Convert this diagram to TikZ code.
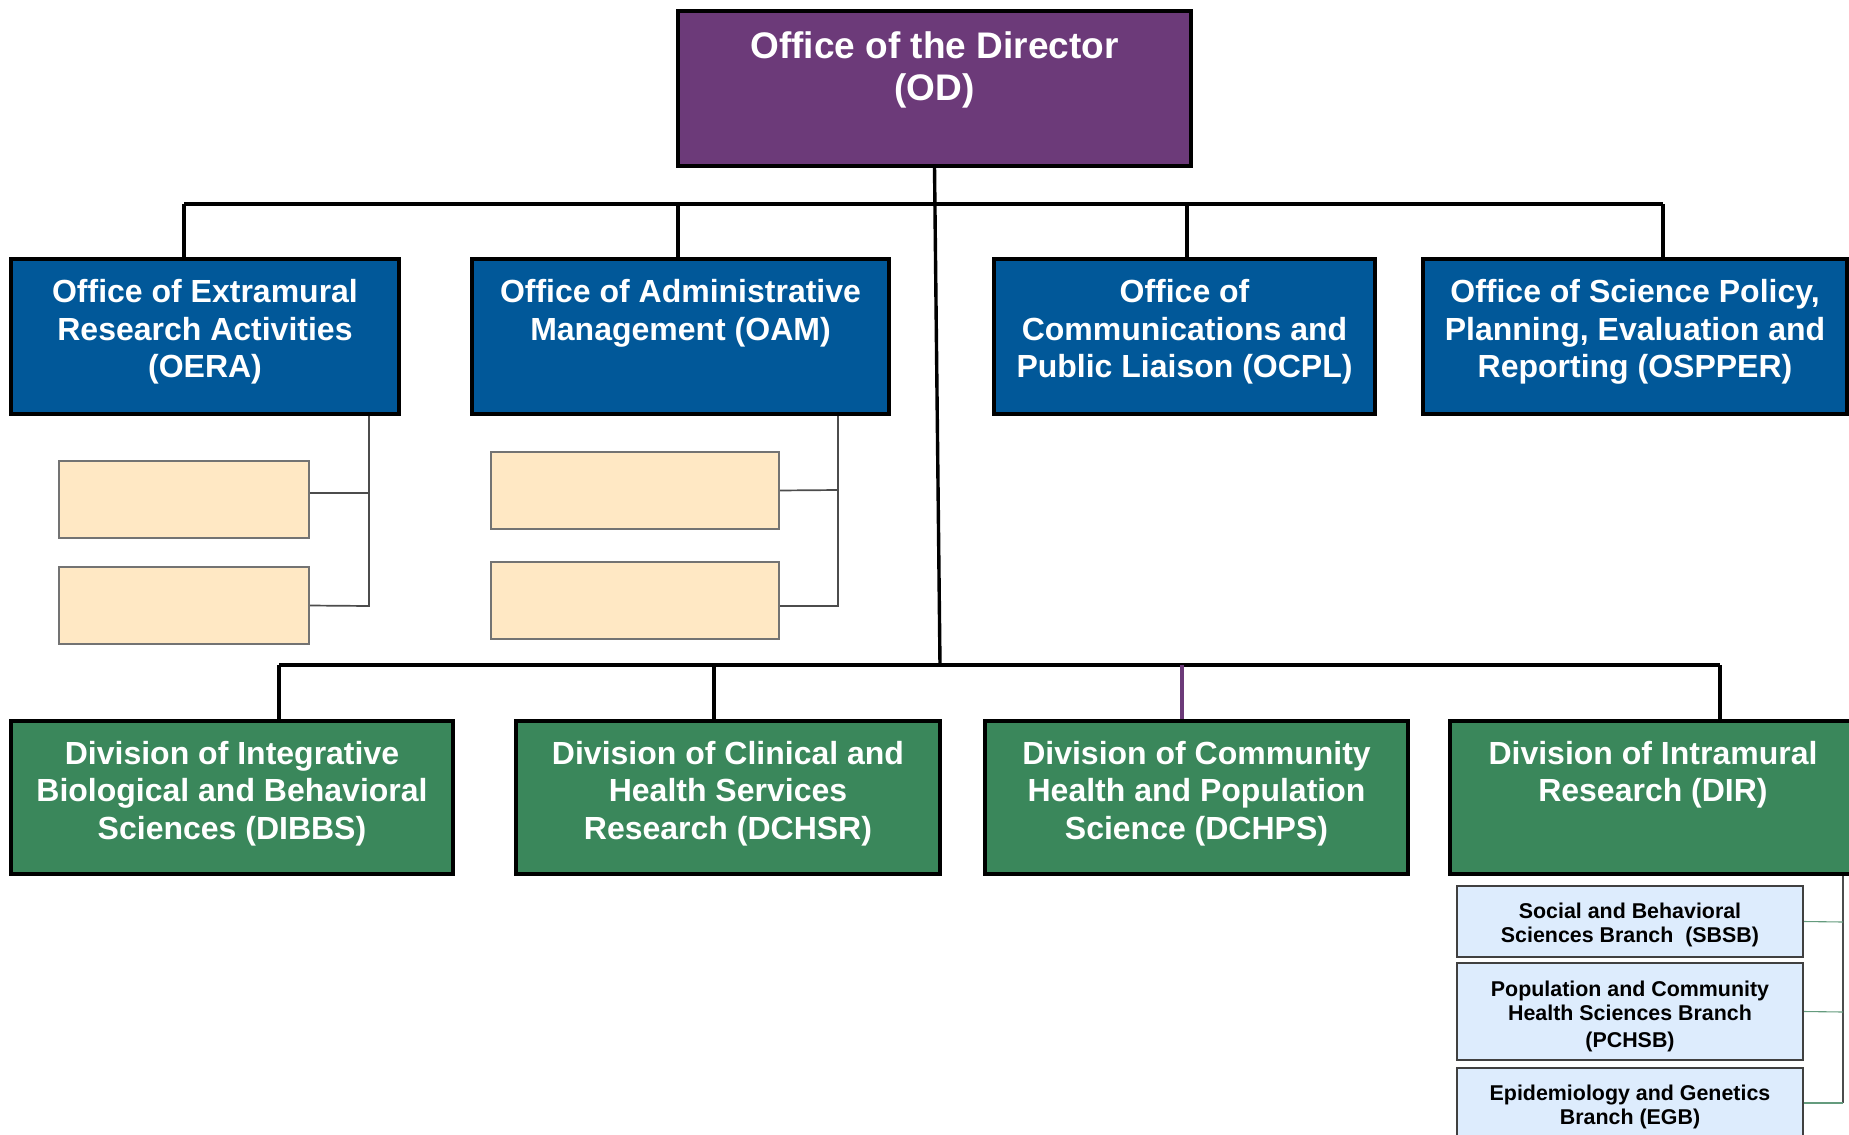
\documentclass[tikz,border=0pt]{standalone}
\usepackage{fontspec}
\setmainfont{Liberation Sans}
\usetikzlibrary{fit,calc,backgrounds}
\definecolor{odpurple}{RGB}{108,58,121}
\definecolor{offblue}{RGB}{1,88,153}
\definecolor{divgreen}{RGB}{58,135,91}
\definecolor{subbeige}{RGB}{255,232,196}
\definecolor{sublblue}{RGB}{221,236,253}
\definecolor{branchline}{RGB}{100,155,125}
\begin{document}
\begin{tikzpicture}[x=0.5pt,y=-0.5pt,
 boxbase/.style={draw=black, line width=1.75pt, inner sep=0pt, outer sep=0pt, rectangle},
 odbox/.style={boxbase, fill=odpurple},
 offbox/.style={boxbase, fill=offblue},
 divbox/.style={boxbase, fill=divgreen},
 beigebox/.style={draw=black!55, line width=0.6pt, fill=subbeige, inner sep=0pt, outer sep=0pt, rectangle},
 branchbox/.style={draw=black!75, line width=0.7pt, fill=sublblue, inner sep=0pt, outer sep=0pt, rectangle},
 bigtext/.style={text=white, font=\fontsize{16}{18.75}\selectfont\bfseries, align=center, inner sep=0pt, anchor=north},
 odtext/.style={text=white, font=\fontsize{18.5}{21}\selectfont\bfseries, align=center, inner sep=0pt, anchor=north},
 brtext/.style={text=black, font=\fontsize{10.7}{12}\selectfont\bfseries, align=center, inner sep=0pt},
 conn/.style={draw=black, line width=1.7pt},
 pconn/.style={draw=odpurple, line width=1.7pt},
 subconn/.style={draw=black!70, line width=0.85pt},
 brconn/.style={draw=branchline, line width=0.55pt},
]
\useasboundingbox (0,0) rectangle (1849,1135);
\clip (0,0) rectangle (1849,1135);

% main boxes
\node[odbox, fit={(678,11)(1191,166)}] (od) {};
\node[offbox, fit={(11,259)(399,414)}] (oera) {};
\node[offbox, fit={(472,259)(889,414)}] (oam) {};
\node[offbox, fit={(994,259)(1375,414)}] (ocpl) {};
\node[offbox, fit={(1423,259)(1847,414)}] (ospper) {};
\node[divbox, fit={(11,721)(453,874)}] (dibbs) {};
\node[divbox, fit={(516,721)(940,874)}] (dchsr) {};
\node[divbox, fit={(985,721)(1408,874)}] (dchps) {};
\node[divbox, fit={(1450,721)(1856,874)}] (dir) {};

% sub boxes
\node[beigebox, fit={(59,461)(309,538)}] (oe1) {};
\node[beigebox, fit={(59,567)(309,644)}] (oe2) {};
\node[beigebox, fit={(491,452)(779,529)}] (oa1) {};
\node[beigebox, fit={(491,562)(779,639)}] (oa2) {};
\node[branchbox, fit={(1457,886)(1803,957)}] (sbsb) {};
\node[branchbox, fit={(1457,963)(1803,1060)}] (pchsb) {};
\node[branchbox, fit={(1457,1068)(1803,1150)}] (egb) {};

% texts
\node[odtext] (odT) at ($(od.north)+(0,20)$) {Office of the Director\\(OD)};
\node[bigtext] (oeraT) at ($(oera.north)+(0,20)$) {Office of Extramural\\Research Activities\\(OERA)};
\node[bigtext] (oamT) at ($(oam.north)+(0,20)$) {Office of Administrative\\Management (OAM)};
\node[bigtext] (ocplT) at ($(ocpl.north)+(0,20)$) {Office of\\Communications and\\Public Liaison (OCPL)};
\node[bigtext] (ospperT) at ($(ospper.north)+(0,20)$) {Office of Science Policy,\\Planning, Evaluation and\\Reporting (OSPPER)};
\node[bigtext] (dibbsT) at ($(dibbs.north)+(0,19.5)$) {Division of Integrative\\Biological and Behavioral\\Sciences (DIBBS)};
\node[bigtext] (dchsrT) at ($(dchsr.north)+(0,19.5)$) {Division of Clinical and\\Health Services\\Research (DCHSR)};
\node[bigtext] (dchpsT) at ($(dchps.north)+(0,19.5)$) {Division of Community\\Health and Population\\Science (DCHPS)};
\node[bigtext] (dirT) at ($(dir.north)+(0,19.5)$) {Division of Intramural\\Research (DIR)};
\node[brtext] (sbsbT) at ($(sbsb.center)+(0,3.5)$) {Social and Behavioral\\Sciences Branch\ \ (SBSB)};
\node[brtext] (pchsbT) at ($(pchsb.center)+(0,5)$) {Population and Community\\Health Sciences Branch\\[1.5pt](PCHSB)};
\node[brtext] (egbT) at (1630,1107) {Epidemiology and Genetics\\Branch (EGB)};

% connectors
\coordinate (tbL) at (184,204);
\coordinate (tbA) at (678,204);
\coordinate (tbC) at (1187,204);
\coordinate (tbR) at (1663,204);
\coordinate (mainB) at (940,665);
\coordinate (bbL) at (279,665);
\coordinate (bbB) at (714,665);
\coordinate (bbC) at (1182,665);
\coordinate (bbR) at (1720,665);
\coordinate (oeV) at (369,606);
\coordinate (oeH) at (369,493);
\coordinate (oaV) at (838,606);
\coordinate (oaH) at (838,490);
\coordinate (drV1) at (1843,922);
\coordinate (drV2) at (1843,1012);
\coordinate (drV3) at (1843,1103);

\begin{scope}[on background layer]
\draw[conn] (tbL) -- (tbR);
\draw[conn] (tbL) -- (tbL |- oera.north);
\draw[conn] (tbA) -- (tbA |- oam.north);
\draw[conn] (tbC) -- (tbC |- ocpl.north);
\draw[conn] (tbR) -- (tbR |- ospper.north);
\draw[conn] (od.south) -- (mainB);
\draw[conn] (bbL) -- (bbR);
\draw[conn] (bbL) -- (bbL |- dibbs.north);
\draw[conn] (bbB) -- (bbB |- dchsr.north);
\draw[pconn] (bbC) -- (bbC |- dchps.north);
\draw[conn] (bbR) -- (bbR |- dir.north);
\draw[subconn] (oeV |- oera.south) -- (oeV) -- (oe2.east);
\draw[subconn] (oeH) -- (oeH -| oe1.east);
\draw[subconn] (oaV |- oam.south) -- (oaV) -- (oaV -| oa2.east);
\draw[subconn] (oaH) -- (oa1.east);
\draw[subconn] (drV3 |- dir.south) -- (drV3);
\draw[brconn] (drV1) -- (sbsb.east);
\draw[brconn] (drV2) -- (pchsb.east);
\draw[brconn] (drV3) -- (drV3 -| egb.east);
\end{scope}
\end{tikzpicture}
\end{document}
